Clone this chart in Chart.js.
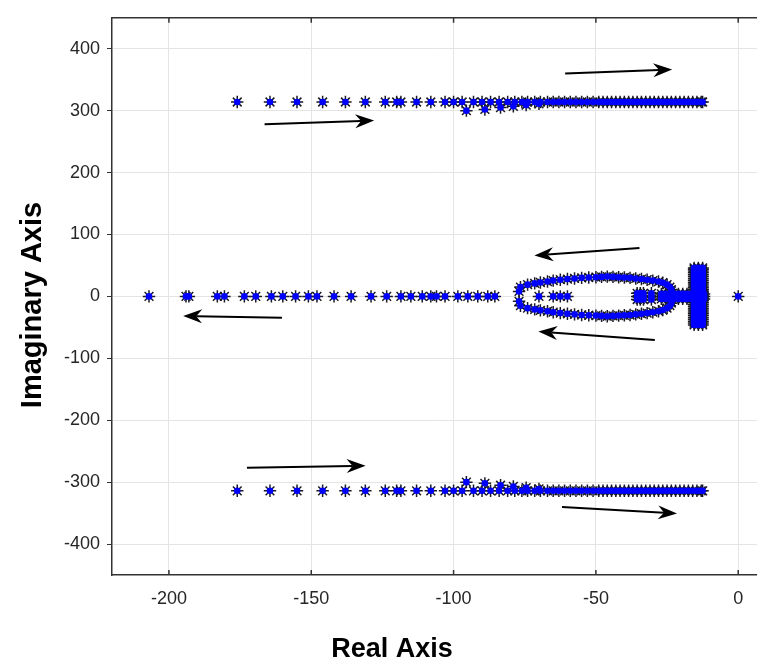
<!DOCTYPE html>
<html>
<head>
<meta charset="utf-8">
<script src="https://cdn.jsdelivr.net/npm/chart.js@4"></script>
<style>
  html, body { margin: 0; padding: 0; background: #fff; overflow: hidden; }
  canvas { display: block; }
</style>
</head>
<body>
<canvas id="rlocus" width="757" height="666"></canvas>
<script>
// ---- data ----
// upper complex branch (lower branch is its mirror image)
var topRe = [-176, -164.5, -155, -146, -138, -131, -124, -120, -118.5, -113, -108, -103, -100, -97,
    -93, -90, -87, -84, -81, -78.5, -76, -74, -71.5, -69.5, -67, -65, -63, -61, -59, -57, -55,
    -53, -51, -49, -47.5, -46, -44.5, -43, -41.5, -40, -38.5, -37, -35.5, -34, -32.5, -31,
    -29.5, -28, -26.5, -25, -23.5, -22, -20.5, -19, -17.5, -16, -14.5, -13, -12.5];
var topIm = 314;
var dipRe = [-95.5, -89, -83.5, -79, -74.5, -70];
var dipIm = [300, 302, 305, 307, 309, 311];

// points on the real axis
var axisRe = [-207, -194, -193, -183, -180.5, -173.5, -169.5, -164, -160, -155.5, -151, -148, -142,
    -136, -129, -123.5, -118.5, -115, -111, -108, -106, -103, -98.5, -95, -91.5, -88, -85.5,
    -70, -65, -62.5, -60, 0];

// loop around the real axis (upper half, lower half is mirrored)
var loopRe = [-77, -76.5, -74, -71.5, -69.5, -67, -65, -62.5, -60, -57.5, -55, -52.5, -50, -48,
    -46, -44, -42, -40, -38, -36, -34, -32, -30, -28, -26.5, -25, -24, -23.5];
var loopIm = [8, 15, 19, 21, 22.5, 24, 25.5, 27, 28, 29, 30, 30.5, 31, 31.5,
    32, 31.5, 31, 30.5, 30, 29, 28, 27, 25.5, 24, 22, 19, 15, 11];

// dense clusters near the right end
var blobRe = [-35.5, -34.4, -33.3, -30.5];
var blobIm = [-5, 0, 5];
var barRe = [-27, -25.5, -24, -22.5, -21, -19.5, -18, -16.5, -15, -13.5, -12];
var barIm = [-4, 0, 4];
var stemRe = [-15.5, -14, -12.5];
var stemIm = [-46, -43, -40, -37, -34, -31, -28, -25, -22, -19, -16, -13, -10, -7, -4, -1,
    2, 5, 8, 11, 14, 17, 20, 23, 26, 29, 32, 35, 38, 41, 44, 46];

// direction arrows (tail -> head, in axis units)
var arrFromX = [-60.8, -166.4, -34.7, -29.3, -160.3, -172.6, -61.9];
var arrFromY = [360, 278, 78, -70.6, -34.5, -276.7, -340];
var arrToX = [-23.2, -127.9, -71.6, -70.2, -195, -130.9, -21.5];
var arrToY = [366.6, 284, 66, -56.7, -31.6, -273.5, -350.6];

var xTicks = [-200, -150, -100, -50, 0];
var yTicks = [-400, -300, -200, -100, 0, 100, 200, 300, 400];

// ---- build the point list ----
var pts = [];
topRe.forEach(function (r) {
    pts.push({ x: r, y: topIm });
    pts.push({ x: r, y: -topIm });
});
dipRe.forEach(function (r, i) {
    pts.push({ x: r, y: dipIm[i] });
    pts.push({ x: r, y: -dipIm[i] });
});
axisRe.forEach(function (r) {
    pts.push({ x: r, y: 0 });
});
loopRe.forEach(function (r, i) {
    pts.push({ x: r, y: loopIm[i] });
    pts.push({ x: r, y: -loopIm[i] });
});
blobRe.forEach(function (r) {
    blobIm.forEach(function (m) { pts.push({ x: r, y: m }); });
});
barRe.forEach(function (r) {
    barIm.forEach(function (m) { pts.push({ x: r, y: m }); });
});
stemRe.forEach(function (r) {
    stemIm.forEach(function (m) { pts.push({ x: r, y: m }); });
});

var FONT = "'Liberation Sans', Arial, Helvetica, sans-serif";
var AXIS = "#333333";

var framePlugin = {
    id: "frame",
    afterDatasetsDraw: function (chart) {
        var ctx = chart.ctx;
        var xs = chart.scales.x, ys = chart.scales.y;
        var a = chart.chartArea;
        ctx.save();
        // arrows
        ctx.strokeStyle = "#000";
        ctx.fillStyle = "#000";
        for (var i = 0; i < arrFromX.length; i++) {
            var x0 = xs.getPixelForValue(arrFromX[i]), y0 = ys.getPixelForValue(arrFromY[i]);
            var x1 = xs.getPixelForValue(arrToX[i]), y1 = ys.getPixelForValue(arrToY[i]);
            var ang = Math.atan2(y1 - y0, x1 - x0);
            var len = 19, half = 7, notch = 6;
            ctx.lineWidth = 2;
            ctx.beginPath();
            ctx.moveTo(x0, y0);
            ctx.lineTo(x1 - Math.cos(ang) * (len - notch), y1 - Math.sin(ang) * (len - notch));
            ctx.stroke();
            ctx.save();
            ctx.translate(x1, y1);
            ctx.rotate(ang);
            ctx.beginPath();
            ctx.moveTo(0, 0);
            ctx.lineTo(-len, -half);
            ctx.lineTo(-len + notch, 0);
            ctx.lineTo(-len, half);
            ctx.closePath();
            ctx.fill();
            ctx.restore();
        }
        // top frame line and inward x ticks
        ctx.strokeStyle = AXIS;
        ctx.lineWidth = 1.5;
        ctx.beginPath();
        ctx.moveTo(a.left, a.top);
        ctx.lineTo(a.right, a.top);
        xTicks.forEach(function (v) {
            var px = xs.getPixelForValue(v);
            ctx.moveTo(px, a.top);
            ctx.lineTo(px, a.top + 5);
            ctx.moveTo(px, a.bottom);
            ctx.lineTo(px, a.bottom - 5);
        });
        ctx.stroke();
        ctx.restore();
    },
    afterDraw: function (chart) {
        var ctx = chart.ctx;
        ctx.save();
        ctx.fillStyle = "#000";
        ctx.textAlign = "center";
        ctx.textBaseline = "middle";
        ctx.font = "bold 27px " + FONT;
        ctx.fillText("Real Axis", 392, 650);
        ctx.font = "bold 29px " + FONT;
        ctx.translate(33, 305);
        ctx.rotate(-Math.PI / 2);
        ctx.fillText("Imaginary Axis", 0, 0);
        ctx.restore();
    }
};

new Chart(document.getElementById("rlocus"), {
    type: "scatter",
    data: {
        datasets: [
            {
                data: pts,
                pointStyle: "circle",
                pointRadius: 3.3,
                pointBackgroundColor: "#0000ff",
                pointBorderWidth: 0,
                order: 0,
            },
            {
                data: pts,
                pointStyle: "star",
                pointRadius: 6.2,
                pointBorderColor: "#1a1a26",
                pointBorderWidth: 1.5,
                order: 1,
            },
        ],
    },
    options: {
        responsive: false,
        animation: false,
        devicePixelRatio: 1,
        layout: { autoPadding: false, padding: { top: 12, left: 0, right: 0, bottom: 0 } },
        plugins: { legend: { display: false }, tooltip: { enabled: false } },
        scales: {
            x: {
                type: "linear",
                min: -220,
                max: 6.6,
                afterFit: function (s) { s.height = 91; },
                afterBuildTicks: function (s) {
                    s.ticks = xTicks.map(function (v) { return { value: v }; });
                },
                grid: { color: "#e4e4e4", lineWidth: 1, drawTicks: false },
                border: { color: AXIS, width: 1.5 },
                ticks: {
                    padding: 13,
                    color: "#262626",
                    font: { family: FONT, size: 18 },
                    maxRotation: 0,
                },
            },
            y: {
                type: "linear",
                min: -450,
                max: 450,
                afterFit: function (s) { s.width = 112; },
                afterBuildTicks: function (s) {
                    s.ticks = yTicks.map(function (v) { return { value: v }; });
                },
                grid: { color: "#e4e4e4", lineWidth: 1, tickLength: 5, tickColor: AXIS },
                border: { color: AXIS, width: 1.5 },
                ticks: {
                    padding: 7,
                    color: "#262626",
                    font: { family: FONT, size: 18 },
                },
            },
        },
    },
    plugins: [framePlugin],
});
</script>
</body>
</html>
